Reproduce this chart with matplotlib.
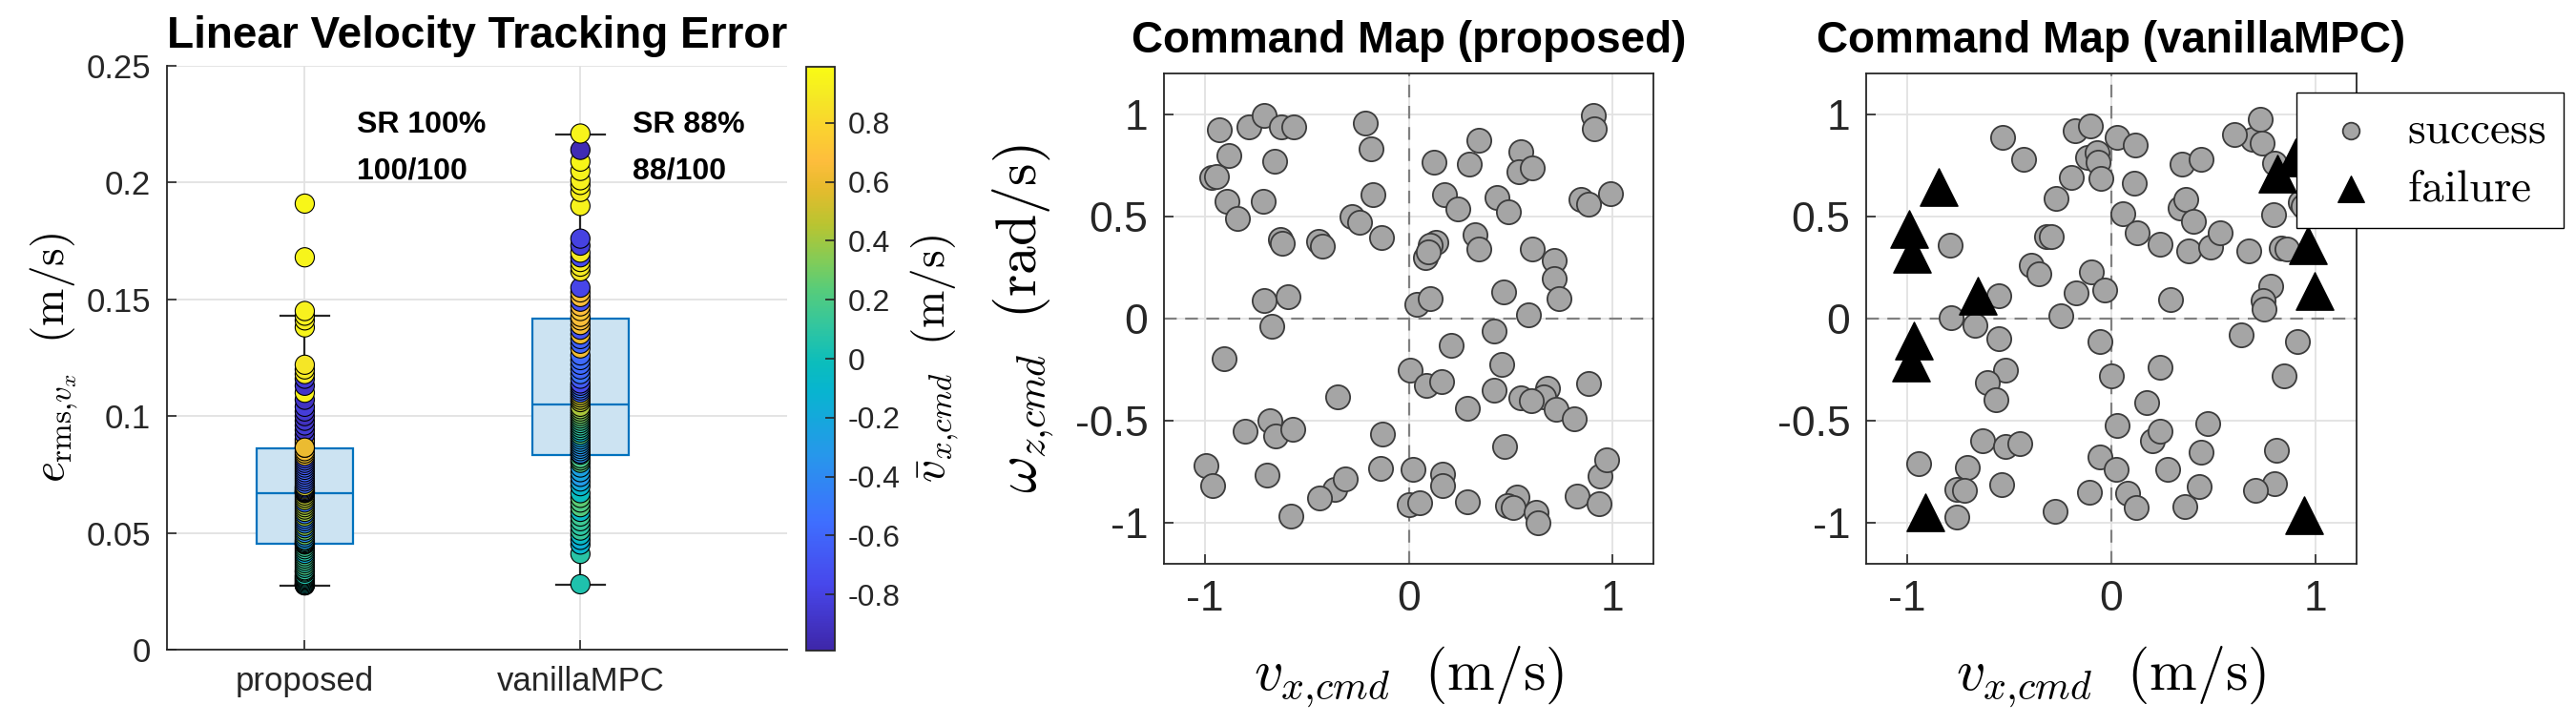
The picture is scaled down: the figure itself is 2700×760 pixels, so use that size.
import numpy as np
import matplotlib
matplotlib.use('Agg')
import matplotlib.pyplot as plt
from matplotlib.colors import LinearSegmentedColormap

plt.rcParams['font.family'] = ['Liberation Sans', 'DejaVu Sans']
plt.rcParams['mathtext.fontset'] = 'cm'
plt.rcParams['axes.unicode_minus'] = False

# ---- data: tracking error box chart ----
categories = ['proposed', 'vanillaMPC']
n_success = [100, 88]
n_trials = [100, 100]

# box statistics
box_q1 = [0.0452, 0.0833]
box_med = [0.0671, 0.1049]
box_q3 = [0.0861, 0.1417]
whisk_lo = [0.0275, 0.0279]
whisk_hi = [0.1431, 0.2207]

err_proposed = [
    0.0275, 0.0276, 0.0278, 0.028, 0.0285, 0.029, 0.0295, 0.030, 0.0305, 0.031,
    0.0315, 0.032, 0.033, 0.0335, 0.034, 0.035, 0.036, 0.037, 0.038, 0.039,
    0.040, 0.041, 0.042, 0.043, 0.044, 0.045, 0.0452, 0.0455, 0.046, 0.0465,
    0.047, 0.048, 0.049, 0.050, 0.051, 0.052, 0.053, 0.054, 0.055, 0.056,
    0.057, 0.058, 0.059, 0.060, 0.061, 0.062, 0.063, 0.064, 0.065, 0.066,
    0.067, 0.0672, 0.0675, 0.0678, 0.068, 0.0685, 0.069, 0.0695, 0.070, 0.071,
    0.072, 0.073, 0.074, 0.075, 0.076, 0.077, 0.078, 0.079, 0.080, 0.081,
    0.082, 0.083, 0.084, 0.085, 0.0865, 0.087, 0.088, 0.089, 0.090, 0.092,
    0.094, 0.096, 0.098, 0.100, 0.102, 0.104, 0.107, 0.110, 0.113, 0.116,
    0.118, 0.120, 0.122, 0.138, 0.141, 0.143, 0.145, 0.168, 0.191, 0.0865,
]
vbar_proposed = [
    -0.05, -0.03, 0.02, -0.02, 0.01, 0.03, 0.07, 0.02, 0.04, 0.05,
    0.11, 0.06, 0.09, 0.15, 0.12, 0.08, 0.20, 0.10, 0.16, 0.14,
    0.18, -0.15, 0.10, 0.12, 0.15, -0.22, 0.20, 0.22, -0.20, 0.25,
    -0.25, -0.30, 0.28, -0.35, 0.30, -0.38, 0.35, -0.40, -0.48, -0.42,
    0.38, -0.45, 0.39, 0.41, 0.40, 0.42, -0.50, 0.43, 0.44, 0.45,
    -0.52, 0.47, -0.56, 0.46, -0.62, 0.48, -0.57, -0.60, 0.50, -0.55,
    -0.64, -0.59, -0.61, -0.66, -0.58, -0.63, -0.60, -0.68, -0.62, -0.65,
    -0.70, 0.61, 0.59, 0.62, 0.58, 0.64, 0.60, -0.78, 0.62, -0.80,
    -0.90, -0.84, -0.87, -0.92, -0.86, -0.83, -0.90, 0.93, -0.88, -0.85,
    0.89, 0.90, 0.88, 0.95, 0.92, 0.94, 0.93, 0.95, 0.96, 0.60,
]

err_vanilla = [
    0.028, 0.041, 0.045, 0.047, 0.049, 0.051, 0.053, 0.055, 0.057, 0.059,
    0.061, 0.063, 0.065, 0.067, 0.070, 0.072, 0.074, 0.076, 0.078, 0.080,
    0.081, 0.082, 0.0835, 0.084, 0.085, 0.086, 0.087, 0.088, 0.089, 0.090,
    0.091, 0.092, 0.093, 0.094, 0.095, 0.096, 0.097, 0.098, 0.099, 0.100,
    0.101, 0.102, 0.103, 0.104, 0.106, 0.107, 0.108, 0.109, 0.110, 0.111,
    0.112, 0.113, 0.114, 0.116, 0.118, 0.120, 0.122, 0.124, 0.126, 0.129,
    0.131, 0.133, 0.135, 0.137, 0.139, 0.141, 0.1425, 0.145, 0.147, 0.149,
    0.151, 0.153, 0.155, 0.162, 0.164, 0.166, 0.168, 0.170, 0.173, 0.176,
    0.190, 0.196, 0.199, 0.201, 0.205, 0.209, 0.214, 0.221,
]
vbar_vanilla = [
    0.05, 0.08, -0.10, -0.15, -0.05, 0.12, 0.10, 0.12, 0.15, -0.05,
    0.22, 0.20, 0.25, -0.02, -0.10, -0.20, -0.30, -0.22, -0.25, 0.20,
    0.22, 0.18, -0.35, -0.38, -0.30, -0.32, -0.35, -0.28, -0.30, -0.25,
    -0.20, 0.20, -0.10, 0.10, 0.08, 0.12, 0.10, 0.15, 0.20, 0.25,
    0.30, 0.33, 0.36, 0.42, 0.45, 0.46, 0.48, 0.50, -0.60, -0.55,
    -0.50, -0.70, -0.75, -0.65, -0.52, -0.60, -0.57, -0.55, -0.58, 0.62,
    -0.60, -0.62, 0.60, -0.70, 0.63, 0.66, 0.65, 0.72, 0.68, -0.72,
    0.66, 0.70, -0.78, 0.88, 0.90, 0.91, -0.75, 0.90, -0.82, -0.80,
    0.94, 0.92, 0.95, 0.93, 0.94, 0.96, -0.95, 0.95,
]

# ---- data: command maps ----
prop_vx = [
    -0.93, -0.785, -0.707, -0.626, -0.563, -0.215, -0.187, 0.907, 0.909, 0.343,
    -0.884, -0.659, 0.126, 0.295, 0.548, 0.54, 0.604, -0.967, -0.942, -0.891,
    -0.841, -0.715, -0.177, 0.174, 0.434, 0.49, 0.24, 0.846, 0.884, 0.99,
    -0.28, -0.24, -0.134, -0.631, -0.621, -0.444, -0.424, 0.131, 0.106, 0.081,
    0.098, 0.323, 0.343, 0.604, 0.712, 0.712, 0.737, -0.707, -0.593, 0.038,
    0.106, 0.467, 0.586, -0.672, 0.417, -0.904, 0.207, 0.005, 0.086, 0.162,
    0.455, 0.417, 0.548, 0.682, 0.662, 0.725, 0.881, 0.813, 0.29, -0.348,
    -0.682, -0.652, -0.568, -0.803, -0.129, 0.472, -0.992, -0.96, -0.694, -0.136,
    0.023, -0.361, -0.311, -0.437, -0.576, 0.164, 0.164, 0.0, 0.056, 0.29,
    0.53, 0.485, 0.51, 0.624, 0.636, 0.826, 0.934, 0.939, 0.972, 0.60,
]
prop_wz = [
    0.925, 0.94, 0.995, 0.94, 0.937, 0.957, 0.83, 0.995, 0.93, 0.874,
    0.797, 0.77, 0.765, 0.758, 0.815, 0.717, 0.74, 0.69, 0.695, 0.575,
    0.488, 0.575, 0.607, 0.607, 0.594, 0.524, 0.537, 0.585, 0.562, 0.614,
    0.501, 0.472, 0.397, 0.388, 0.368, 0.38, 0.357, 0.372, 0.361, 0.30,
    0.327, 0.413, 0.339, 0.339, 0.284, 0.194, 0.097, 0.09, 0.106, 0.072,
    0.099, 0.129, 0.02, -0.036, -0.061, -0.196, -0.13, -0.253, -0.325, -0.309,
    -0.223, -0.35, -0.388, -0.339, -0.381, -0.445, -0.316, -0.49, -0.44, -0.384,
    -0.501, -0.573, -0.54, -0.553, -0.567, -0.628, -0.718, -0.819, -0.767, -0.733,
    -0.74, -0.835, -0.783, -0.878, -0.968, -0.763, -0.819, -0.91, -0.90, -0.896,
    -0.873, -0.914, -0.923, -0.946, -0.998, -0.869, -0.907, -0.772, -0.689, -0.40,
]

mpc_ok_vx = [
    -0.531, -0.431, -0.176, -0.103, 0.03, 0.118, -0.116, -0.071, -0.065, -0.053,
    -0.196, 0.111, -0.272, -0.317, -0.292, -0.393, -0.353, -0.788, 0.055, 0.126,
    -0.096, -0.033, -0.171, -0.247, -0.549, -0.783, -0.67, -0.549, -0.519, -0.605,
    -0.567, -0.058, 0.0, 0.239, 0.174, 0.03, 0.202, 0.237, 0.471, -0.63,
    -0.516, -0.448, -0.945, -0.705, -0.756, -0.72, -0.758, -0.537, -0.277, -0.108,
    -0.058, 0.025, 0.081, 0.123, 0.277, 0.358, 0.428, 0.438, 0.29, 0.237,
    0.345, 0.441, 0.335, 0.365, 0.403, 0.378, 0.484, 0.534, 0.673, 0.693,
    0.73, 0.736, 0.793, 0.831, 0.861, 0.781, 0.741, 0.748, 0.635, 0.912,
    0.844, 0.806, 0.798, 0.705, 0.924, 0.937, 0.80, 0.60,
]
mpc_ok_wz = [
    0.887, 0.779, 0.921, 0.944, 0.887, 0.851, 0.79, 0.813, 0.767, 0.688,
    0.693, 0.661, 0.587, 0.40, 0.402, 0.26, 0.221, 0.361, 0.512, 0.418,
    0.23, 0.14, 0.124, 0.016, 0.113, 0.005, -0.034, -0.097, -0.253, -0.312,
    -0.395, -0.113, -0.278, -0.237, -0.413, -0.524, -0.598, -0.553, -0.515, -0.598,
    -0.628, -0.614, -0.711, -0.729, -0.835, -0.84, -0.971, -0.813, -0.944, -0.851,
    -0.677, -0.738, -0.853, -0.926, -0.74, -0.919, -0.824, -0.655, 0.095, 0.366,
    0.756, 0.779, 0.542, 0.582, 0.474, 0.332, 0.35, 0.418, 0.332, 0.88,
    0.975, 0.858, 0.508, 0.345, 0.339, 0.158, 0.09, 0.045, -0.079, -0.113,
    -0.282, -0.643, -0.808, -0.84, 0.571, 0.553, 0.76, 0.90,
]
mpc_fail_vx = [-0.844, -0.99, -0.977, -0.655, -0.965, -0.982, -0.909,
               0.811, 0.899, 0.962, 0.995, 0.945]
mpc_fail_wz = [0.643, 0.44, 0.316, 0.113, -0.108, -0.214, -0.948,
               0.711, 0.79, 0.361, 0.135, -0.964]

# MATLAB parula-like colormap
parula_pts = [
    (0.2422, 0.1504, 0.6603), (0.2803, 0.2782, 0.9221), (0.2440, 0.4358, 0.9988),
    (0.1540, 0.5902, 0.9218), (0.0297, 0.7082, 0.8163), (0.0433, 0.7411, 0.7394),
    (0.1938, 0.7758, 0.6251), (0.3406, 0.8008, 0.4789), (0.5044, 0.7993, 0.3480),
    (0.7242, 0.7698, 0.1910), (0.9035, 0.7330, 0.1774), (0.9956, 0.7434, 0.2371),
    (0.9786, 0.8386, 0.1766), (0.9597, 0.9135, 0.1423), (0.9769, 0.9839, 0.0805),
]
parula_pos = [0, 7, 14, 21, 28, 31, 35, 39, 42, 46, 50, 53, 57, 60, 63]
parula = LinearSegmentedColormap.from_list(
    'parula', [(p / 63, c) for p, c in zip(parula_pos, parula_pts)])

TXT = '#262626'
GRID = '#e2e2e2'
W, H = 2700, 760


def px_axes(fig, x0, y0, x1, y1):
    """axes from pixel box (top-left origin)"""
    return fig.add_axes([x0 / W, 1 - y1 / H, (x1 - x0) / W, (y1 - y0) / H])


def style_axes(ax, size):
    ax.tick_params(direction='in', length=7, width=1.2, colors=TXT,
                   labelsize=size, pad=12)
    ax.grid(True, color=GRID, linewidth=1.3)
    ax.set_axisbelow(True)
    for sp in ax.spines.values():
        sp.set_color(TXT)
        sp.set_linewidth(1.3)


fig = plt.figure(figsize=(W / 100, H / 100), dpi=100)

# ---- left: tracking error ----
ax1 = px_axes(fig, 175, 69, 825, 681)
style_axes(ax1, 25)
ax1.spines['top'].set_visible(False)
ax1.spines['right'].set_visible(False)

stats = []
for i in range(len(categories)):
    stats.append(dict(med=box_med[i], q1=box_q1[i], q3=box_q3[i],
                      whislo=whisk_lo[i], whishi=whisk_hi[i], fliers=[]))
ax1.bxp(stats, positions=[1, 2], widths=0.35, capwidths=0.175,
        showfliers=False, patch_artist=True,
        boxprops=dict(facecolor='#cce3f2', edgecolor='#0072bd', linewidth=1.6),
        medianprops=dict(color='#0072bd', linewidth=1.6),
        whiskerprops=dict(color=TXT, linewidth=1.6),
        capprops=dict(color=TXT, linewidth=1.6))

sc = ax1.scatter(np.full(len(err_proposed), 1.0), err_proposed, c=vbar_proposed,
                 cmap=parula, vmin=-0.99, vmax=0.99, s=210,
                 edgecolors='k', linewidths=0.8, zorder=3)
ax1.scatter(np.full(len(err_vanilla), 2.0), err_vanilla, c=vbar_vanilla,
            cmap=parula, vmin=-0.99, vmax=0.99, s=210,
            edgecolors='k', linewidths=0.8, zorder=3)

for i in range(len(categories)):
    rate = 100 * n_success[i] / n_trials[i]
    ax1.text(i + 1.19, 0.2247, f'SR {rate:.0f}%', fontsize=23,
             fontweight='bold', va='center', ha='left')
    ax1.text(i + 1.19, 0.2047, f'{n_success[i]}/{n_trials[i]}', fontsize=23,
             fontweight='bold', va='center', ha='left')

ax1.set_xlim(0.5, 2.75)
ax1.set_ylim(0, 0.25)
ax1.set_xticks([1, 2])
ax1.set_xticklabels(categories)
ax1.set_yticks([0, 0.05, 0.1, 0.15, 0.2, 0.25])
ax1.set_yticklabels(['0', '0.05', '0.1', '0.15', '0.2', '0.25'])
ax1.set_title('Linear Velocity Tracking Error', fontsize=33,
              fontweight='bold', pad=14)
ax1.set_ylabel(r'$e_{\mathrm{rms}{,}v_x}\ \ (\mathrm{m/s})$', fontsize=34)
ax1.yaxis.set_label_coords(-0.14, 0.5)

cax = px_axes(fig, 845, 70, 875, 682)
cbar = fig.colorbar(sc, cax=cax)
cbar.set_ticks([-0.8, -0.6, -0.4, -0.2, 0, 0.2, 0.4, 0.6, 0.8])
cbar.set_ticklabels(['-0.8', '-0.6', '-0.4', '-0.2', '0', '0.2', '0.4', '0.6', '0.8'])
cbar.ax.tick_params(direction='in', length=7, width=1.2, colors=TXT,
                    labelsize=23, pad=10)
cbar.outline.set_edgecolor(TXT)
cbar.outline.set_linewidth(1.3)
cbar.set_label(r'$\bar{v}_{x{,}cmd}\ \ (\mathrm{m/s})$', fontsize=34)
cbar.ax.yaxis.set_label_coords(3.6, 0.5)


# ---- command maps ----
def command_map(ax, title):
    style_axes(ax, 32)
    ax.axhline(0, color='#808080', linestyle=(0, (6, 4)), linewidth=1.6, zorder=1)
    ax.axvline(0, color='#808080', linestyle=(0, (6, 4)), linewidth=1.6, zorder=1)
    ax.set_xlim(-1.2, 1.2)
    ax.set_ylim(-1.2, 1.2)
    ax.set_xticks([-1, 0, 1])
    ax.set_xticklabels(['-1', '0', '1'])
    ax.set_yticks([-1, -0.5, 0, 0.5, 1])
    ax.set_yticklabels(['-1', '-0.5', '0', '0.5', '1'])
    ax.set_title(title, fontsize=33, fontweight='bold', pad=16)
    ax.set_xlabel(r'$v_{x{,}cmd}\ \ (\mathrm{m/s})$', fontsize=43)
    ax.xaxis.set_label_coords(0.5, -0.165)


ax2 = px_axes(fig, 1220, 77, 1733, 591)
command_map(ax2, 'Command Map (proposed)')
ax2.scatter(prop_vx, prop_wz, s=330, facecolor='#a5a5a5', edgecolor='#3c3c3c',
            linewidths=1.3, zorder=3)
ax2.set_ylabel(r'$\omega_{z{,}cmd}\ \ (\mathrm{rad/s})$', fontsize=43)
ax2.yaxis.set_label_coords(-0.22, 0.5)

ax3 = px_axes(fig, 1956, 77, 2470, 591)
command_map(ax3, 'Command Map (vanillaMPC)')
h_ok = ax3.scatter(mpc_ok_vx, mpc_ok_wz, s=330, facecolor='#a5a5a5',
                   edgecolor='#3c3c3c', linewidths=1.3, zorder=3)
h_fail = ax3.scatter(mpc_fail_vx, mpc_fail_wz, s=800, marker='^',
                     facecolor='k', edgecolor='k', zorder=4)
ax3.legend([h_ok, h_fail], [r'$\mathrm{success}$', r'$\mathrm{failure}$'],
           loc='upper left', bbox_to_anchor=(2407 / W, 1 - 97 / H),
           bbox_transform=fig.transFigure, borderaxespad=0, fontsize=34,
           fancybox=False, framealpha=1, edgecolor='k', markerscale=0.7,
           scatterpoints=1, handlelength=1.6, handletextpad=0.45,
           borderpad=0.4, labelspacing=0.35)

fig.savefig('out.png', dpi=100)
